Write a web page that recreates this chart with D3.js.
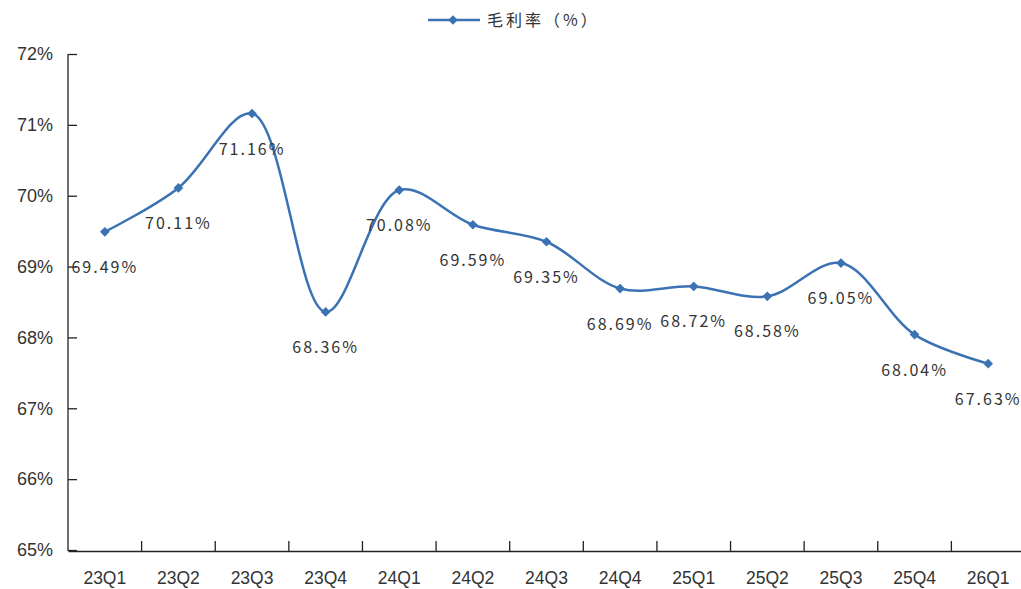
<!DOCTYPE html>
<html><head><meta charset="utf-8">
<script src="https://cdn.jsdelivr.net/npm/d3@7"></script>
<style>body{margin:0;background:#fff;}svg{display:block;}</style>
</head><body>
<svg id="c" width="1021" height="589"></svg>
<script>
const categories = ["23Q1","23Q2","23Q3","23Q4","24Q1","24Q2","24Q3","24Q4","25Q1","25Q2","25Q3","25Q4","26Q1"];
const grossMargin = [69.49,70.11,71.16,68.36,70.08,69.59,69.35,68.69,68.72,68.58,69.05,68.04,67.63];
const yTicks = [65,66,67,68,69,70,71,72];
const seriesName = "毛利率（%）";

(function(){
const svg = d3.select("#c");
const color = "#3a72b4";
const mLeft = 68, mRight = 1025, mTop = 54, mBottom = 550;

const x = d3.scaleBand().domain(categories).range([mLeft, mRight]);
const y = d3.scaleLinear().domain([65, 72]).range([mBottom, mTop]);

// y axis
const yAxis = svg.append("g").attr("transform", `translate(${mLeft},0)`)
  .call(d3.axisLeft(y).tickValues(yTicks).tickSize(-9).tickPadding(15).tickFormat(d => d + "%"));
yAxis.select(".domain").attr("stroke", "#222").attr("stroke-width", 1.3).attr("d", `M0,${mTop}V${mBottom+1}`);
yAxis.selectAll(".tick line").attr("stroke", "#222").attr("stroke-width", 1.3);
yAxis.selectAll("text").attr("font-family", "Liberation Sans, Arial, sans-serif").attr("font-size", 18).attr("fill", "#333");

// x axis
const xAxis = svg.append("g").attr("transform", `translate(0,${mBottom+1})`)
  .call(d3.axisBottom(x).tickSize(0).tickPadding(21));
xAxis.select(".domain").attr("stroke", "#222").attr("stroke-width", 1.3);
xAxis.selectAll("text").attr("font-family", "Liberation Sans, Arial, sans-serif").attr("font-size", 17.5).attr("fill", "#333");
// boundary ticks between categories
svg.append("g").selectAll("line").data(categories.slice(1)).join("line")
  .attr("x1", d => x(d)).attr("x2", d => x(d))
  .attr("y1", mBottom + 1).attr("y2", mBottom - 9)
  .attr("stroke", "#222").attr("stroke-width", 1.3);

const cx = d => x(d) + x.bandwidth() / 2;
const pts = categories.map((c, i) => [cx(c), y(grossMargin[i])]);

svg.append("path")
  .attr("d", d3.line().curve(d3.curveCatmullRom.alpha(0.5))(pts))
  .attr("fill", "none").attr("stroke", color).attr("stroke-width", 2.5);

const diamond = d3.symbol().type(d3.symbolDiamond2).size(60);
svg.append("g").selectAll("path").data(pts).join("path")
  .attr("transform", d => `translate(${d[0]},${d[1]})`)
  .attr("d", diamond).attr("fill", color);

svg.append("g").selectAll("text").data(pts).join("text")
  .attr("x", d => d[0]).attr("y", d => d[1] + 41)
  .attr("text-anchor", "middle")
  .attr("font-family", "Noto Sans CJK SC, sans-serif").attr("font-size", 16)
  .attr("letter-spacing", 2).attr("fill", "#333")
  .text((d, i) => grossMargin[i].toFixed(2) + "%");

// legend
const lg = svg.append("g");
lg.append("line").attr("x1", 428).attr("x2", 480).attr("y1", 20).attr("y2", 20).attr("stroke", color).attr("stroke-width", 2.5);
lg.append("path").attr("transform", "translate(453,20)").attr("d", diamond).attr("fill", color);
lg.append("text").attr("x", 487).attr("y", 26).attr("font-family", "Noto Sans CJK SC, sans-serif")
  .attr("font-size", 16).attr("letter-spacing", 3).attr("fill", "#333").text(seriesName);
})();
</script>
</body></html>
